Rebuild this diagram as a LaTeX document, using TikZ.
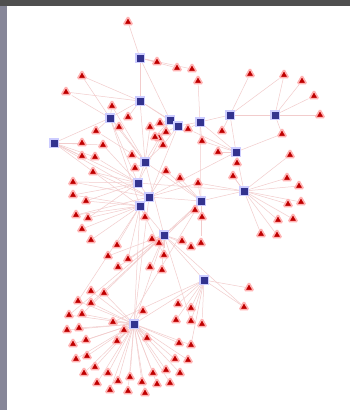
\documentclass[tikz,border=0pt]{standalone}
\usetikzlibrary{shapes.geometric,backgrounds}

\begin{document}
\begin{tikzpicture}[x=1pt, y=-1pt,
    hub/.style={rectangle, fill=blue!45!black!80, draw=blue!20, line width=1.5pt, minimum size=8.5pt, inner sep=0pt},
    leaf/.style={regular polygon, regular polygon sides=3, fill=red!75!black, draw=red!30, line width=1.6pt, minimum size=10.5pt, inner sep=0pt, rounded corners=1.2pt},
    edge/.style={draw=gray!40!red!25, line width=0.5pt}]

    \useasboundingbox (0,0) rectangle (350,410);
    \begin{pgfonlayer}{background}
        \fill[white] (0,0) rectangle (350,410);
    \end{pgfonlayer}
    \fill[gray!55!black!95] (0,0) rectangle (350,6);
    \fill[gray!75!blue!40!white!70!black] (0,6) rectangle (7,410);

    % hubs
    \foreach \name/\x/\y in {h1/140/58, h2/140/101, h3/110/118, h4/170/120, h5/178/126,
        h6/200/122, h7/230/115, h8/275/115, h9/54/143, h10/145/162, h11/236/152,
        h12/138/183, h13/149/197, h14/140/206, h15/244/191, h16/201/201,
        h17/164/235, h18/204/280, h19/134/324}
        \node[hub] (\name) at (\x,\y) {};

    \begin{pgfonlayer}{background}
        \foreach \a/\b in {h1/h2, h2/h3, h2/h10, h3/h9, h4/h5, h5/h6, h6/h7, h7/h8,
            h7/h11, h11/h15, h10/h12, h12/h13, h13/h14, h13/h16, h14/h17, h16/h17,
            h17/h18, h17/h19, h18/h19, h4/h10, h5/h13, h15/h16, h12/h9, h6/h11, h2/h4,
            h3/h12, h3/h14, h9/h14, h10/h16, h12/h15, h14/h19, h13/h19, h4/h12,
            h2/h5, h10/h17, h6/h16, h11/h13, h1/h4, h3/h10, h9/h13}
            \draw[edge] (\a) -- (\b);
    \end{pgfonlayer}

    % leaves and their links
    \foreach \x/\y/\h [count=\i] in {
        128/22/h1, 157/62/h1, 177/68/h1, 192/69/h1, 198/81/h6, 82/76/h3, 66/92/h3,
        250/74/h7, 284/75/h8, 302/81/h8, 314/96/h8, 320/115/h8, 282/134/h8,
        112/106/h3, 128/117/h2, 119/127/h3, 96/131/h3, 150/127/h4, 160/123/h4,
        166/132/h5, 159/138/h4, 188/129/h6, 222/131/h7, 202/141/h6, 163/145/h10,
        155/137/h4, 82/143/h9, 103/145/h9, 82/156/h9, 95/157/h9, 132/155/h10,
        218/152/h11, 237/163/h11, 233/176/h15, 290/155/h15, 287/178/h15, 299/186/h15,
        93/172/h12, 73/182/h12, 73/195/h14, 86/201/h14, 76/215/h14, 88/218/h14,
        82/229/h14, 91/240/h14, 135/168/h10, 166/171/h13, 180/178/h16, 198/183/h16,
        195/210/h16, 202/217/h16, 145/217/h14, 288/204/h15, 301/202/h15, 278/220/h15,
        293/219/h15, 261/234/h15, 277/235/h15, 152/239/h17, 159/243/h17, 182/241/h17,
        191/247/h17, 201/243/h16, 117/245/h14, 108/256/h17, 128/259/h17, 164/255/h17,
        118/267/h17, 150/267/h17, 162/270/h17,
        91/291/h19, 104/293/h19, 78/301/h19, 91/303/h19, 69/315/h19, 82/314/h19,
        67/330/h19, 79/328/h19, 86/340/h19, 73/344/h19, 87/356/h19, 76/359/h19,
        95/367/h19, 84/373/h19, 97/383/h19, 108/373/h19, 110/390/h19, 118/381/h19,
        128/391/h19, 130/377/h19, 142/382/h19, 145/393/h19, 153/373/h19, 157/384/h19,
        166/370/h19, 170/383/h19, 180/373/h19, 175/359/h19, 188/360/h19, 179/343/h19,
        191/345/h19, 143/311/h19, 113/322/h19, 124/330/h19, 117/341/h19, 147/338/h19,
        178/304/h18, 191/308/h18, 176/320/h18, 191/321/h18, 202/324/h18,
        249/288/h18, 244/307/h18}
    {
        \node[leaf] (l\i) at (\x,\y) {};
        \begin{pgfonlayer}{background}
            \draw[edge] (\h) -- (l\i);
        \end{pgfonlayer}
    }

    % second links of some leaves
    \begin{pgfonlayer}{background}
        \foreach \h/\i in {h13/l38, h13/l39, h12/l40, h12/l41, h13/l42, h12/l43,
            h10/l14, h10/l16, h10/l17, h12/l28, h12/l30, h16/l47, h13/l49, h15/l49,
            h11/l22, h11/l24, h5/l25, h10/l18, h16/l60, h14/l66, h14/l67,
            h17/l74, h17/l75, h17/l76, h14/l73, h17/l110, h17/l113, h18/l101,
            h18/l103, h16/l105, h15/l34, h7/l9, h11/l13, h2/l6, h2/l7, h17/l50}
            \draw[edge] (\h) -- (\i);
    \end{pgfonlayer}
\end{tikzpicture}
\end{document}
